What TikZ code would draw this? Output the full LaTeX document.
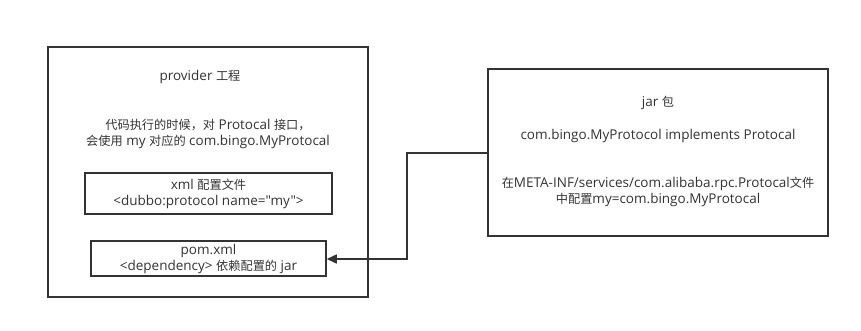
\documentclass[tikz,border=0pt]{standalone}
\usepackage{fontspec}
\newfontfamily\latf{Open Sans}
\newfontfamily\cjkf{Noto Sans CJK SC}
\newcommand{\zh}[1]{{\cjkf\fontsize{12.2}{16}\selectfont #1}}
\usetikzlibrary{arrows.meta}
\definecolor{ink}{HTML}{333333}
\tikzset{
  box/.style={draw=ink, line width=1.5pt},
  txt/.style={text=ink, font=\latf\fontsize{13.5}{16}\selectfont, align=center, inner sep=0pt},
  conn/.style={draw=ink, line width=1.5pt, -{Triangle[length=10pt,width=9pt]}}
}
\begin{document}
\begin{tikzpicture}[x=1pt,y=-1pt]
\useasboundingbox[fill=white] (0,0) rectangle (861,330);
% provider box
\node[box, minimum width=320pt, minimum height=250pt, inner sep=0pt] (prov) at (208,172) {};
\node[txt] (provt) at (200,77) {provider \zh{工程}};
\node[txt] (provd) at (208,134) {\zh{代码执行的时候，}\zh{对} Protocal \zh{接口，}\\\zh{会使用} my \zh{对应的} com.bingo.MyProtocal};
\node[box, minimum width=247pt, minimum height=41pt, inner sep=0pt] (xml) at (208.5,193.5) {};
\node[txt] (xmlt) at (208.5,194) {xml \zh{配置文件}\\<dubbo:protocol name="my">};
\node[box, minimum width=235pt, minimum height=35pt, inner sep=0pt] (pom) at (208.5,258.5) {};
\node[txt] (pomt) at (208.5,259) {pom.xml\\<dependency> \zh{依赖配置的} jar};
% jar box
\node[box, minimum width=340pt, minimum height=167pt, inner sep=0pt] (jar) at (658,152.5) {};
\node[txt] (jart) at (658,103) {jar \zh{包}};
\node[txt] (jari) at (658,136) {com.bingo.MyProtocol implements Protocal};
\node[txt] (jarm) at (658,192) {\zh{在}META-INF/services/com.alibaba.rpc.Protocal\zh{文件}\\\zh{中配置}my=com.bingo.MyProtocal};
% connector
\coordinate (c1) at (407,153);
\coordinate (c2) at (407,259);
\draw[conn] (jar.west |- c1) -- (c1) -- (c2) -- (pom.east |- c2);
\end{tikzpicture}
\end{document}
